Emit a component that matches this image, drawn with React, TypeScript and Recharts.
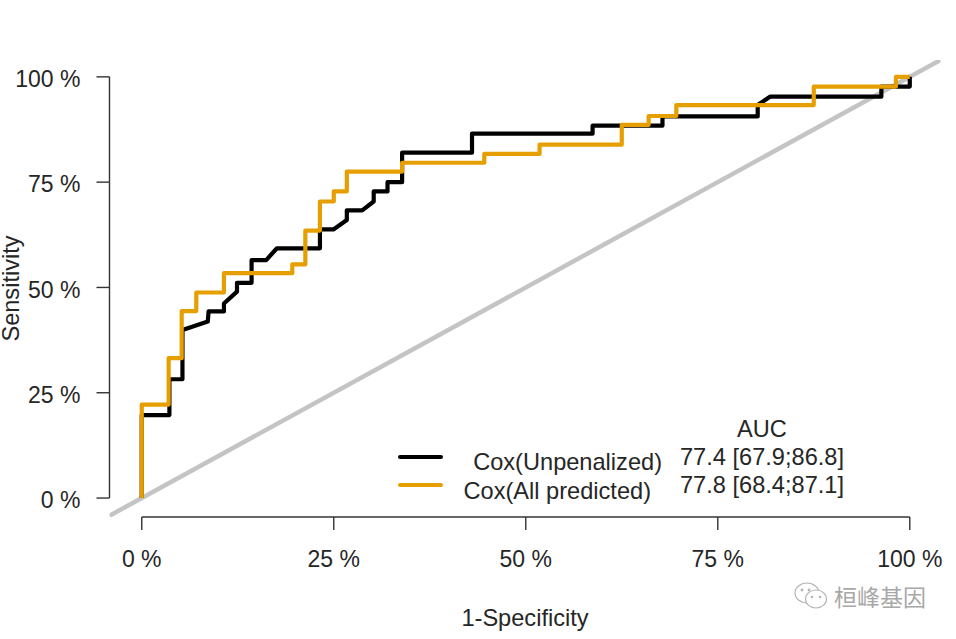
import React from "react";
import {
  Legend,
  Line,
  LineChart,
  ReferenceLine,
  XAxis,
  YAxis,
} from "recharts";

const unpenalizedX = [0, 0, 3.6, 3.6, 5.3, 5.3, 8.6, 8.7, 10.7, 10.7, 12.4, 12.4, 14.3, 14.3, 16.2, 17.6, 23.2, 23.2, 25, 26.7, 26.7, 28.7, 30.2, 30.2, 32, 32, 33.9, 33.9, 43, 43, 58.7, 58.7, 67.8, 67.8, 80.2, 80.2, 81.8, 96.3, 96.3, 100, 100];
const unpenalizedY = [0, 19.7, 19.7, 28.2, 28.2, 39.9, 41.9, 44.3, 44.3, 46.2, 49, 51.1, 51.1, 56.5, 56.5, 59.3, 59.3, 63.8, 63.8, 66, 68.3, 68.3, 70.4, 72.8, 72.8, 75, 75, 82, 82, 86.5, 86.5, 88.4, 88.4, 90.6, 90.6, 93.3, 95.3, 95.3, 97.7, 97.7, 100];
const allPredictedX = [0, 0, 3.5, 3.5, 5.2, 5.2, 7.1, 7.1, 10.7, 10.7, 19.6, 19.6, 21.3, 21.3, 23.2, 23.2, 25, 25, 26.7, 26.7, 33.9, 33.9, 44.6, 44.6, 51.8, 51.8, 62.5, 62.5, 66, 66, 69.6, 69.6, 87.5, 87.5, 98.2, 98.2, 100];
const allPredictedY = [0, 22.2, 22.2, 33.2, 33.2, 44.4, 44.4, 48.8, 48.8, 53.4, 53.4, 55.5, 55.5, 63.5, 63.5, 70.4, 70.4, 72.8, 72.8, 77.5, 77.5, 79.6, 79.6, 81.7, 81.7, 83.9, 83.9, 88.6, 88.6, 90.7, 90.7, 93.3, 93.3, 97.7, 97.7, 100, 100];
const diagonalValues = [-4.2, 104];

const percentTicks = [0, 25, 50, 75, 100];
const seriesNames = ["Cox(Unpenalized)", "Cox(All predicted)"];
const aucHeader = "AUC";
const aucLabels = ["77.4 [67.9;86.8]", "77.8 [68.4;87.1]"];

const toPoints = (xs: number[], ys: number[]) =>
  xs.map((x, i) => ({ x, y: ys[i] }));

const unpenalized = toPoints(unpenalizedX, unpenalizedY);
const allPredicted = toPoints(allPredictedX, allPredictedY);
const diagonal = toPoints(diagonalValues, diagonalValues);

const FONT = "'Liberation Sans', Arial, sans-serif";
const TEXT = "#262626";
const LABEL_SIZE = 23.6;

const legendRows = [
  { lineTop: 455, textRight: 662, textTop: 449, aucTop: 444 },
  { lineTop: 483, textRight: 651, textTop: 478, aucTop: 472 },
];

function RocLegend({ payload }: any) {
  const entries = (payload ?? []).filter((entry: any) =>
    seriesNames.includes(entry.value),
  );
  return (
    <div style={{ fontFamily: FONT, fontSize: LABEL_SIZE, color: TEXT, lineHeight: "26px" }}>
      <div style={{ position: "absolute", left: 662, width: 200, top: 416, textAlign: "center" }}>
        {aucHeader}
      </div>
      {entries.map((entry: any) => {
        const i = seriesNames.indexOf(entry.value);
        return (
          <React.Fragment key={entry.value}>
            <div
              style={{
                position: "absolute",
                left: 398,
                top: legendRows[i].lineTop,
                width: 45,
                height: 4,
                borderRadius: 2,
                background: entry.color,
              }}
            />
            <div
              style={{
                position: "absolute",
                left: legendRows[i].textRight,
                top: legendRows[i].textTop,
                transform: "translateX(-100%)",
                whiteSpace: "nowrap",
              }}
            >
              {entry.value}
            </div>
            <div
              style={{
                position: "absolute",
                left: 680,
                top: legendRows[i].aucTop,
                whiteSpace: "nowrap",
              }}
            >
              {aucLabels[i]}
            </div>
          </React.Fragment>
        );
      })}
    </div>
  );
}

function WeChatMark() {
  return (
    <svg width="36" height="30" viewBox="0 0 36 30" style={{ position: "absolute", left: 793, top: 581 }}>
      <ellipse cx="14" cy="12" rx="12" ry="10" fill="none" stroke="#b5b5b5" strokeWidth="1.2" />
      <ellipse cx="23" cy="18" rx="10.5" ry="9" fill="#fff" stroke="#b5b5b5" strokeWidth="1.2" />
      <circle cx="9" cy="9" r="1.4" fill="#b5b5b5" />
      <circle cx="16" cy="9" r="1.4" fill="#b5b5b5" />
      <circle cx="19" cy="16" r="1.3" fill="#b5b5b5" />
      <circle cx="27" cy="16" r="1.3" fill="#b5b5b5" />
    </svg>
  );
}

export default function App() {
  return (
    <div style={{ position: "absolute", left: 0, top: 0, width: 956, height: 639, background: "#fff" }}>
      <LineChart
        width={956}
        height={639}
        margin={{ top: 60, right: 15.5, bottom: 0, left: 0 }}
      >
        <XAxis
          type="number"
          dataKey="x"
          domain={[-4.2, 104]}
          allowDataOverflow
          ticks={percentTicks}
          interval={0}
          height={122}
          tickFormatter={(v) => `${v} %`}
          tick={{ fill: TEXT, fontSize: 23, fontFamily: FONT }}
          tickSize={13}
          tickMargin={21}
          tickLine={{ stroke: "#333", strokeWidth: 1.4 }}
          axisLine={false}
          label={{
            value: "1-Specificity",
            position: "insideBottom",
            offset: 13,
            fill: TEXT,
            fontSize: LABEL_SIZE,
            fontFamily: FONT,
          }}
        />
        <YAxis
          type="number"
          dataKey="y"
          domain={[-4.5, 104]}
          allowDataOverflow
          ticks={percentTicks}
          interval={0}
          width={109.5}
          tickFormatter={(v) => `${v} %`}
          tick={{ fill: TEXT, fontSize: 23, fontFamily: FONT, dy: 2 }}
          tickSize={13}
          tickMargin={16}
          tickLine={{ stroke: "#333", strokeWidth: 1.4 }}
          axisLine={false}
          label={{
            value: "Sensitivity",
            angle: -90,
            position: "insideLeft",
            offset: 11,
            fill: TEXT,
            fontSize: LABEL_SIZE,
            fontFamily: FONT,
            style: { textAnchor: "middle" },
          }}
        />
        <ReferenceLine
          segment={[{ x: 0, y: -4.5 }, { x: 100, y: -4.5 }]}
          stroke="#333"
          strokeWidth={1.4}
          ifOverflow="visible"
        />
        <ReferenceLine
          segment={[{ x: -4.2, y: 0 }, { x: -4.2, y: 100 }]}
          stroke="#333"
          strokeWidth={1.4}
          ifOverflow="visible"
        />
        <Line
          data={diagonal}
          dataKey="y"
          type="linear"
          stroke="#c4c4c4"
          strokeWidth={4.5}
          dot={false}
          legendType="none"
          isAnimationActive={false}
        />
        <Line
          data={unpenalized}
          dataKey="y"
          name={seriesNames[0]}
          type="linear"
          stroke="#000000"
          strokeWidth={4.2}
          strokeLinejoin="round"
          dot={false}
          isAnimationActive={false}
        />
        <Line
          data={allPredicted}
          dataKey="y"
          name={seriesNames[1]}
          type="linear"
          stroke="#E69F00"
          strokeWidth={4.2}
          strokeLinejoin="round"
          dot={false}
          isAnimationActive={false}
        />
        <Legend
          layout="horizontal"
          align="center"
          verticalAlign="middle"
          wrapperStyle={{ position: "absolute", left: 0, top: 0, width: 0, height: 0 }}
          content={(props: any) => <RocLegend payload={props.payload} />}
        />
      </LineChart>
      <WeChatMark />
      <div
        style={{
          position: "absolute",
          left: 834,
          top: 581,
          fontFamily: "'Noto Sans CJK SC', sans-serif",
          fontSize: 23,
          lineHeight: "30px",
          color: "#a8a8a8",
          whiteSpace: "nowrap",
        }}
      >
        桓峰基因
      </div>
    </div>
  );
}
